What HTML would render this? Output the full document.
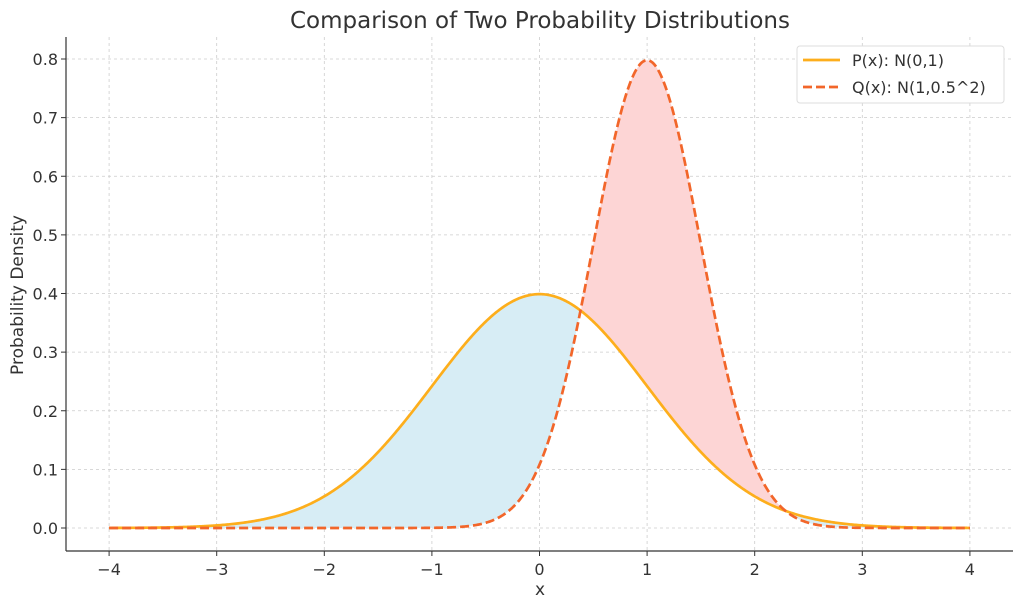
<!DOCTYPE html>
<html><head><meta charset="utf-8"><style>
body{margin:0;background:#fff;}
svg{display:block;font-family:"DejaVu Sans","Liberation Sans",sans-serif;}
</style></head><body>
<svg id="s" width="1024" height="608" viewBox="0 0 1024 608" xmlns="http://www.w3.org/2000/svg">
<rect width="1024" height="608" fill="#fff"/>
<g id="grid" stroke="#cccccc" stroke-width="0.8" stroke-dasharray="3,3"></g>
<path id="fb" fill="#d7edf5" stroke="none"/>
<path id="fr" fill="#fdd5d5" stroke="none"/>
<path id="pp" fill="none" stroke="#fdae1c" stroke-width="2.7"/>
<path id="pq" fill="none" stroke="#f2662a" stroke-width="2.7" stroke-dasharray="9,4"/>
<g stroke="#333" stroke-width="1.2">
<line x1="66" y1="37" x2="66" y2="551"/>
<line x1="66" y1="551" x2="1013" y2="551"/>
</g>
<g id="ticks" font-size="16" fill="#333"></g>
<text x="540" y="28" font-size="23" text-anchor="middle" fill="#333">Comparison of Two Probability Distributions</text>
<text x="540" y="595" font-size="17" text-anchor="middle" fill="#333">x</text>
<text transform="translate(23,295) rotate(-90)" font-size="17" text-anchor="middle" fill="#333">Probability Density</text>
<rect x="797" y="46" width="207" height="57" rx="3" fill="#fff" stroke="#ddd"/>
<line x1="803" y1="60" x2="840" y2="60" stroke="#fdae1c" stroke-width="2.7"/>
<line x1="803" y1="87" x2="840" y2="87" stroke="#f2662a" stroke-width="2.7" stroke-dasharray="9,4"/>
<text x="852" y="66" font-size="16" fill="#333">P(x): N(0,1)</text>
<text x="852" y="93" font-size="16" fill="#333">Q(x): N(1,0.5^2)</text>
</svg>
<script>
const X=x=>539.5+x*107.6, Y=y=>528-y*586.25;
const P=x=>Math.exp(-x*x/2)/Math.sqrt(2*Math.PI);
const Q=x=>Math.exp(-2*(x-1)*(x-1))/(0.5*Math.sqrt(2*Math.PI));
let g=document.getElementById('grid'),t=document.getElementById('ticks'),h='',tt='';
for(let i=-4;i<=4;i++){let x=X(i);h+=`<line x1="${x}" y1="37" x2="${x}" y2="551"/>`;
tt+=`<line x1="${x}" y1="551" x2="${x}" y2="556" stroke="#333"/><text x="${x}" y="575" text-anchor="middle">${i<0?'\u2212'+(-i):i}</text>`;}
for(let j=0;j<=8;j++){let y=Y(j/10);h+=`<line x1="66" y1="${y}" x2="1013" y2="${y}"/>`;
tt+=`<line x1="61" y1="${y}" x2="66" y2="${y}" stroke="#333"/><text x="58" y="${y+6}" text-anchor="end">${(j/10).toFixed(1)}</text>`;}
g.innerHTML=h;t.innerHTML=tt;
let a='',b='';
let xs=[];for(let i=0;i<=800;i++)xs.push(-4+i*0.01);
xs.forEach((x,i)=>{a+=(i?'L':'M')+X(x).toFixed(2)+','+Y(P(x)).toFixed(2);b+=(i?'L':'M')+X(x).toFixed(2)+','+Y(Q(x)).toFixed(2);});
function fill(cond){let d='';let seg=[];
const flush=()=>{if(seg.length>1){d+='M'+seg.map(x=>X(x).toFixed(2)+','+Y(P(x)).toFixed(2)).join('L');
d+='L'+seg.slice().reverse().map(x=>X(x).toFixed(2)+','+Y(Q(x)).toFixed(2)).join('L')+'Z';}seg=[];};
xs.forEach(x=>{if(cond(x))seg.push(x);else flush();});flush();return d;}
document.getElementById('pp').setAttribute('d',a);
document.getElementById('pq').setAttribute('d',b);
document.getElementById('fb').setAttribute('d',fill(x=>P(x)>=Q(x)));
document.getElementById('fr').setAttribute('d',fill(x=>Q(x)>=P(x)));
</script>
</body></html>
